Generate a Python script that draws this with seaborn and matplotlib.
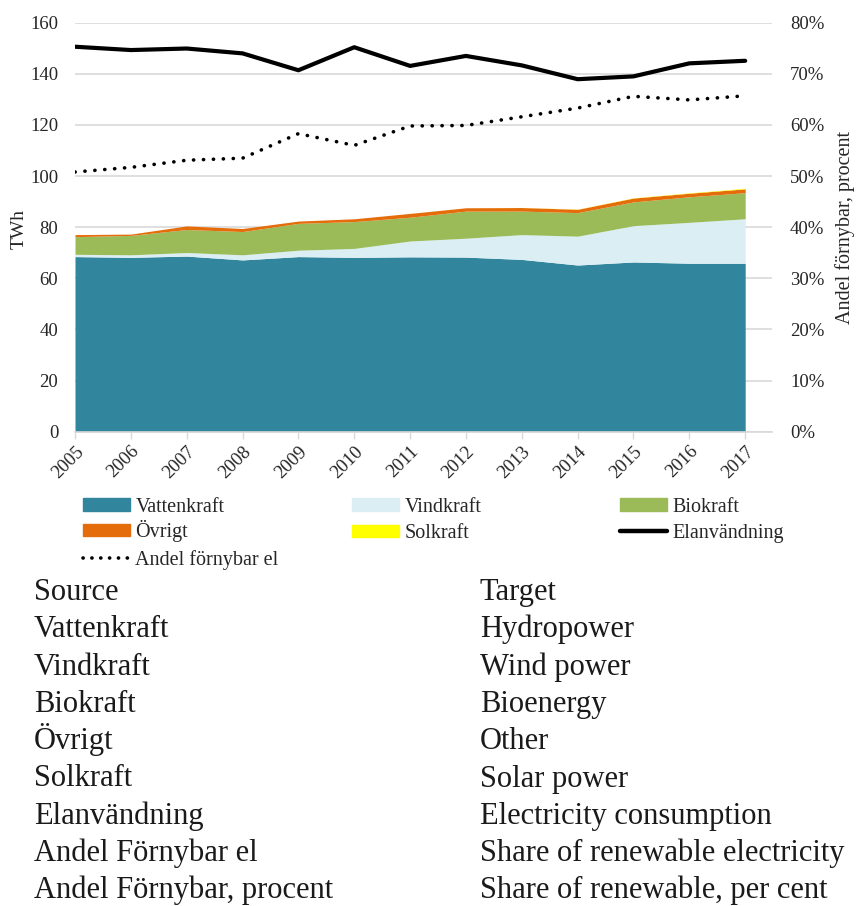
import matplotlib
matplotlib.use("Agg")
import matplotlib.pyplot as plt
from matplotlib.patches import Patch
from matplotlib.lines import Line2D
from matplotlib.ticker import FuncFormatter, MultipleLocator
import seaborn as sns

# --- data (TWh, percent) ---
years = [2005, 2006, 2007, 2008, 2009, 2010, 2011, 2012, 2013, 2014, 2015, 2016, 2017]
vattenkraft = [68.5, 68.2, 68.7, 67.2, 68.5, 68.2, 68.4, 68.3, 67.4, 65.2, 66.4, 65.9, 65.9]
vindkraft = [0.9, 1.0, 1.4, 2.0, 2.5, 3.5, 6.2, 7.4, 9.7, 11.3, 14.2, 16.0, 17.4]
biokraft = [6.9, 7.6, 9.0, 9.1, 10.5, 10.5, 9.3, 10.6, 9.2, 9.2, 9.3, 10.0, 10.2]
ovrigt = [0.8, 0.5, 1.4, 1.2, 0.9, 1.1, 1.5, 1.3, 1.4, 1.3, 1.5, 1.4, 1.5]
solkraft = [0.0, 0.0, 0.0, 0.0, 0.0, 0.0, 0.0, 0.0, 0.04, 0.06, 0.1, 0.14, 0.23]
elanvandning = [150.6, 149.3, 149.9, 148.0, 141.4, 150.4, 143.1, 147.0, 143.3, 137.9, 139.0, 144.1, 145.1]
andel_fornybar = [50.8, 51.7, 53.1, 53.5, 58.3, 56.0, 59.8, 59.9, 61.6, 63.3, 65.6, 64.9, 65.7]

source_terms = ["Source", "Vattenkraft", "Vindkraft", "Biokraft", "Övrigt", "Solkraft",
                "Elanvändning", "Andel Förnybar el", "Andel Förnybar, procent"]
target_terms = ["Target", "Hydropower", "Wind power", "Bioenergy", "Other", "Solar power",
                "Electricity consumption", "Share of renewable electricity",
                "Share of renewable, per cent"]

colors = {
    "Vattenkraft": "#31859C",
    "Vindkraft": "#DAEEF3",
    "Biokraft": "#9BBB59",
    "Övrigt": "#E46C0A",
    "Solkraft": "#FFFF00",
}

sns.set_theme(style="white")
plt.rcParams["font.family"] = ["Liberation Serif", "DejaVu Serif"]

W, H = 856, 906
fig = plt.figure(figsize=(W / 100, H / 100), dpi=100)

def fx(px):
    return px / W

def fy(py):
    return 1 - py / H

ax = fig.add_axes([fx(75), fy(431.7), fx(772) - fx(75), fy(22.7) - fy(431.7)])

ax.stackplot(years, vattenkraft, vindkraft, biokraft, ovrigt, solkraft,
             colors=[colors[k] for k in ["Vattenkraft", "Vindkraft", "Biokraft", "Övrigt", "Solkraft"]],
             linewidth=0, zorder=2)
sns.lineplot(x=years, y=elanvandning, ax=ax, color="black", linewidth=3.0,
             solid_joinstyle="round", zorder=4)

ax.set_xlim(2005, 2017.48)
ax.set_ylim(0, 160)
ax.yaxis.set_major_locator(MultipleLocator(20))
ax.set_xticks(years)
ax.set_xticklabels([str(y) for y in years], rotation=45, ha="right",
                   rotation_mode="anchor", fontsize=13.5)
ax.tick_params(axis="x", length=5, width=1, color="#D9D9D9", pad=3, bottom=True)
ax.tick_params(axis="y", length=0, pad=12, labelsize=13.5)
ax.grid(axis="y", color="#D9D9D9", linewidth=1.2, zorder=0)
ax.set_axisbelow(True)
for side in ["left", "right", "top"]:
    ax.spines[side].set_visible(False)
ax.spines["bottom"].set_color("#D9D9D9")
ax.spines["bottom"].set_linewidth(1.2)
ax.set_ylabel("")
ax.set_xlabel("")

ax2 = ax.twinx()
sns.lineplot(x=years, y=andel_fornybar, ax=ax2, color="black", linewidth=2.6,
             linestyle=(0, (0.05, 2.7)), dash_capstyle="round", zorder=4)
ax2.set_ylim(0, 80)
ax2.yaxis.set_major_locator(MultipleLocator(10))
ax2.yaxis.set_major_formatter(FuncFormatter(lambda v, p: f"{v:.0f}%"))
ax2.tick_params(axis="y", length=0, pad=13, labelsize=13.5)
for side in ["left", "right", "top", "bottom"]:
    ax2.spines[side].set_visible(False)
ax2.set_ylabel("")
ax2.grid(False)

fig.text(fx(19), fy(229), "TWh", rotation=90, ha="center", va="center", fontsize=14)
fig.text(fx(845), fy(228), "Andel förnybar, procent", rotation=90, ha="center",
         va="center", fontsize=14.5)

# legend: one entry per grid cell so every row lines up
leg_kw = dict(loc="center left", frameon=False, fontsize=14.5, handlelength=2.35,
              handleheight=0.58, handletextpad=0.25, borderpad=0, borderaxespad=0)
entries = [
    (Patch(color=colors["Vattenkraft"]), "Vattenkraft", 0, 0, 0),
    (Patch(color=colors["Vindkraft"]), "Vindkraft", 1, 0, 0),
    (Patch(color=colors["Biokraft"]), "Biokraft", 2, 0, 0),
    (Patch(color=colors["Övrigt"]), "Övrigt", 0, 1, -2.5),
    (Patch(color=colors["Solkraft"]), "Solkraft", 1, 1, 0),
    (Line2D([], [], color="black", linewidth=3.2), "Elanvändning", 2, 1, 0),
    (Line2D([], [], color="black", linewidth=2.6, linestyle=(0, (0.05, 2.4)),
            dash_capstyle="round"), "Andel förnybar el", 0, 2, 0),
]
col_x = [83, 352, 620]
row_y = [507, 533.5, 560]
for handle, label, c, r, dy in entries:
    fig.legend([handle], [label], bbox_to_anchor=(fx(col_x[c]), fy(row_y[r] + dy)), **leg_kw)

# glossary below the chart
base0, step = 600.0, 37.3
for i, (s, t) in enumerate(zip(source_terms, target_terms)):
    yb = base0 + i * step
    fig.text(fx(34), fy(yb), s, ha="left", va="baseline", fontsize=22, color="#1a1a1a")
    fig.text(fx(480), fy(yb), t, ha="left", va="baseline", fontsize=22, color="#1a1a1a")

fig.savefig("out.png", dpi=100)
